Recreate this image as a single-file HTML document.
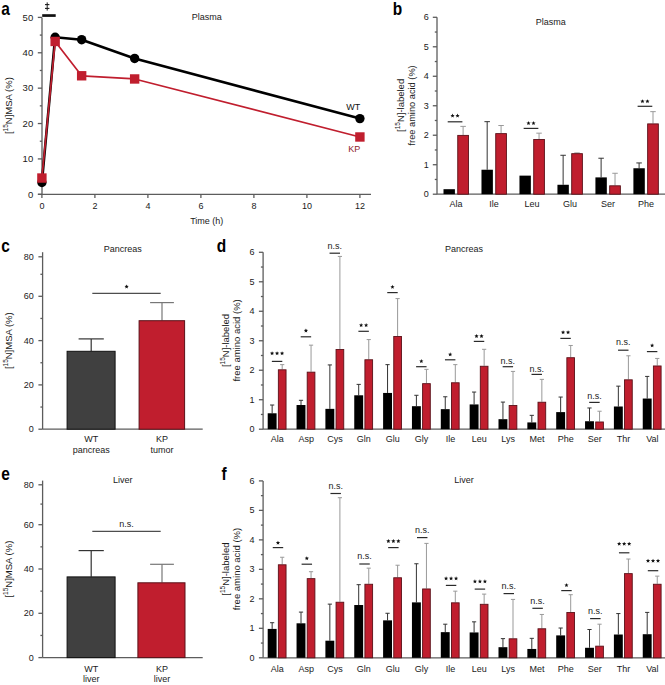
<!DOCTYPE html>
<html><head><meta charset="utf-8"><style>html,body{margin:0;padding:0;background:#fff;}svg{display:block;font-family:"Liberation Sans",sans-serif;}</style></head><body>
<svg width="665" height="685" viewBox="0 0 665 685" font-family="Liberation Sans, sans-serif">
<rect width="665" height="685" fill="#fff"/>
<text transform="translate(1.3,15) scale(0.86,1)" font-size="18" font-weight="bold" fill="#000">a</text>
<line x1="42" y1="17.4" x2="42" y2="194.3" stroke="#5c5c5c" stroke-width="1.3"/>
<line x1="37.8" y1="194.3" x2="42" y2="194.3" stroke="#5c5c5c" stroke-width="1.3"/>
<line x1="37.8" y1="158.92" x2="42" y2="158.92" stroke="#5c5c5c" stroke-width="1.3"/>
<line x1="37.8" y1="123.54" x2="42" y2="123.54" stroke="#5c5c5c" stroke-width="1.3"/>
<line x1="37.8" y1="88.16" x2="42" y2="88.16" stroke="#5c5c5c" stroke-width="1.3"/>
<line x1="37.8" y1="52.78" x2="42" y2="52.78" stroke="#5c5c5c" stroke-width="1.3"/>
<line x1="37.8" y1="17.4" x2="42" y2="17.4" stroke="#5c5c5c" stroke-width="1.3"/>
<line x1="39.8" y1="176.61" x2="42" y2="176.61" stroke="#5c5c5c" stroke-width="1.3"/>
<line x1="39.8" y1="141.23" x2="42" y2="141.23" stroke="#5c5c5c" stroke-width="1.3"/>
<line x1="39.8" y1="105.85" x2="42" y2="105.85" stroke="#5c5c5c" stroke-width="1.3"/>
<line x1="39.8" y1="70.47" x2="42" y2="70.47" stroke="#5c5c5c" stroke-width="1.3"/>
<line x1="39.8" y1="35.09" x2="42" y2="35.09" stroke="#5c5c5c" stroke-width="1.3"/>
<text x="33.2" y="197.6" font-size="9.5" text-anchor="end" font-weight="normal" fill="#1a1a1a">0</text>
<text x="33.2" y="162.22" font-size="9.5" text-anchor="end" font-weight="normal" fill="#1a1a1a">10</text>
<text x="33.2" y="126.84" font-size="9.5" text-anchor="end" font-weight="normal" fill="#1a1a1a">20</text>
<text x="33.2" y="91.46" font-size="9.5" text-anchor="end" font-weight="normal" fill="#1a1a1a">30</text>
<text x="33.2" y="56.08" font-size="9.5" text-anchor="end" font-weight="normal" fill="#1a1a1a">40</text>
<text x="33.2" y="20.7" font-size="9.5" text-anchor="end" font-weight="normal" fill="#1a1a1a">50</text>
<line x1="38" y1="194.3" x2="371" y2="194.3" stroke="#5c5c5c" stroke-width="1.3"/>
<line x1="41.9" y1="194.3" x2="41.9" y2="198.1" stroke="#5c5c5c" stroke-width="1.3"/>
<text x="41.9" y="209.2" font-size="9" text-anchor="middle" font-weight="normal" fill="#1a1a1a">0</text>
<line x1="94.9" y1="194.3" x2="94.9" y2="198.1" stroke="#5c5c5c" stroke-width="1.3"/>
<text x="94.9" y="209.2" font-size="9" text-anchor="middle" font-weight="normal" fill="#1a1a1a">2</text>
<line x1="147.9" y1="194.3" x2="147.9" y2="198.1" stroke="#5c5c5c" stroke-width="1.3"/>
<text x="147.9" y="209.2" font-size="9" text-anchor="middle" font-weight="normal" fill="#1a1a1a">4</text>
<line x1="200.9" y1="194.3" x2="200.9" y2="198.1" stroke="#5c5c5c" stroke-width="1.3"/>
<text x="200.9" y="209.2" font-size="9" text-anchor="middle" font-weight="normal" fill="#1a1a1a">6</text>
<line x1="253.9" y1="194.3" x2="253.9" y2="198.1" stroke="#5c5c5c" stroke-width="1.3"/>
<text x="253.9" y="209.2" font-size="9" text-anchor="middle" font-weight="normal" fill="#1a1a1a">8</text>
<line x1="306.9" y1="194.3" x2="306.9" y2="198.1" stroke="#5c5c5c" stroke-width="1.3"/>
<text x="306.9" y="209.2" font-size="9" text-anchor="middle" font-weight="normal" fill="#1a1a1a">10</text>
<line x1="359.9" y1="194.3" x2="359.9" y2="198.1" stroke="#5c5c5c" stroke-width="1.3"/>
<text x="359.9" y="209.2" font-size="9" text-anchor="middle" font-weight="normal" fill="#1a1a1a">12</text>
<text x="206.8" y="223.6" font-size="9" text-anchor="middle" font-weight="normal" fill="#1a1a1a">Time (h)</text>
<text x="206.7" y="19.6" font-size="9" text-anchor="middle" font-weight="normal" fill="#1a1a1a">Plasma</text>
<text transform="translate(12.3,105.6) rotate(-90)" font-size="9.5" text-anchor="middle" fill="#1a1a1a">[<tspan font-size="6.5" dy="-4.3">15</tspan><tspan dy="4.3">N]MSA (%)</tspan></text>
<rect x="42.2" y="14.2" width="13.5" height="2.7" fill="#111"/>
<line x1="47.2" y1="2.4" x2="47.2" y2="10.6" stroke="#1a1a1a" stroke-width="1"/>
<line x1="45" y1="4.6" x2="49.4" y2="4.6" stroke="#1a1a1a" stroke-width="1.1"/>
<line x1="45" y1="8.4" x2="49.4" y2="8.4" stroke="#1a1a1a" stroke-width="1.1"/>
<polyline points="41.9,182.45 55.15,37.21 81.65,39.69 134.65,58.44 359.9,118.59" fill="none" stroke="#000" stroke-width="2.6" stroke-linejoin="round"/>
<circle cx="41.9" cy="182.45" r="4.7" fill="#000"/>
<circle cx="55.15" cy="37.21" r="4.7" fill="#000"/>
<circle cx="81.65" cy="39.69" r="4.7" fill="#000"/>
<circle cx="134.65" cy="58.44" r="4.7" fill="#000"/>
<circle cx="359.9" cy="118.59" r="4.7" fill="#000"/>
<polyline points="41.9,178.03 55.15,41.46 81.65,75.78 134.65,78.96 359.9,136.98" fill="none" stroke="#c01e2e" stroke-width="1.7" stroke-linejoin="round"/>
<rect x="37.2" y="173.33" width="9.4" height="9.4" fill="#c01e2e"/>
<rect x="50.45" y="36.76" width="9.4" height="9.4" fill="#c01e2e"/>
<rect x="76.95" y="71.08" width="9.4" height="9.4" fill="#c01e2e"/>
<rect x="129.95" y="74.26" width="9.4" height="9.4" fill="#c01e2e"/>
<rect x="355.2" y="132.28" width="9.4" height="9.4" fill="#c01e2e"/>
<text x="353.3" y="109.9" font-size="9" text-anchor="middle" font-weight="normal" fill="#111">WT</text>
<text x="354.2" y="152.4" font-size="9" text-anchor="middle" font-weight="normal" fill="#8e1b2c">KP</text>
<text transform="translate(392.8,14.7) scale(0.86,1)" font-size="18" font-weight="bold" fill="#000">b</text>
<line x1="437" y1="17.3" x2="437" y2="194.2" stroke="#5c5c5c" stroke-width="1.3"/>
<line x1="432.8" y1="194.2" x2="437" y2="194.2" stroke="#5c5c5c" stroke-width="1.3"/>
<line x1="432.8" y1="164.72" x2="437" y2="164.72" stroke="#5c5c5c" stroke-width="1.3"/>
<line x1="432.8" y1="135.23" x2="437" y2="135.23" stroke="#5c5c5c" stroke-width="1.3"/>
<line x1="432.8" y1="105.75" x2="437" y2="105.75" stroke="#5c5c5c" stroke-width="1.3"/>
<line x1="432.8" y1="76.27" x2="437" y2="76.27" stroke="#5c5c5c" stroke-width="1.3"/>
<line x1="432.8" y1="46.78" x2="437" y2="46.78" stroke="#5c5c5c" stroke-width="1.3"/>
<line x1="432.8" y1="17.3" x2="437" y2="17.3" stroke="#5c5c5c" stroke-width="1.3"/>
<line x1="434.8" y1="179.46" x2="437" y2="179.46" stroke="#5c5c5c" stroke-width="1.3"/>
<line x1="434.8" y1="149.97" x2="437" y2="149.97" stroke="#5c5c5c" stroke-width="1.3"/>
<line x1="434.8" y1="120.49" x2="437" y2="120.49" stroke="#5c5c5c" stroke-width="1.3"/>
<line x1="434.8" y1="91.01" x2="437" y2="91.01" stroke="#5c5c5c" stroke-width="1.3"/>
<line x1="434.8" y1="61.53" x2="437" y2="61.53" stroke="#5c5c5c" stroke-width="1.3"/>
<line x1="434.8" y1="32.04" x2="437" y2="32.04" stroke="#5c5c5c" stroke-width="1.3"/>
<text x="428.8" y="197.1" font-size="9" text-anchor="end" font-weight="normal" fill="#1a1a1a">0</text>
<text x="428.8" y="167.62" font-size="9" text-anchor="end" font-weight="normal" fill="#1a1a1a">1</text>
<text x="428.8" y="138.13" font-size="9" text-anchor="end" font-weight="normal" fill="#1a1a1a">2</text>
<text x="428.8" y="108.65" font-size="9" text-anchor="end" font-weight="normal" fill="#1a1a1a">3</text>
<text x="428.8" y="79.17" font-size="9" text-anchor="end" font-weight="normal" fill="#1a1a1a">4</text>
<text x="428.8" y="49.68" font-size="9" text-anchor="end" font-weight="normal" fill="#1a1a1a">5</text>
<text x="428.8" y="20.2" font-size="9" text-anchor="end" font-weight="normal" fill="#1a1a1a">6</text>
<line x1="437" y1="194.2" x2="665" y2="194.2" stroke="#5c5c5c" stroke-width="1.3"/>
<text x="550.7" y="25.3" font-size="9" text-anchor="middle" font-weight="normal" fill="#1a1a1a">Plasma</text>
<text transform="translate(404.3,105.4) rotate(-90)" font-size="9.5" text-anchor="middle" fill="#1a1a1a">[<tspan font-size="6.5" dy="-4.3">15</tspan><tspan dy="4.3">N]-labeled</tspan></text>
<text transform="translate(414.6,105.4) rotate(-90)" font-size="9.25" text-anchor="middle" fill="#1a1a1a">free amino acid (%)</text>
<line x1="463.1" y1="134.94" x2="463.1" y2="126.39" stroke="#999999" stroke-width="1"/>
<line x1="460.35" y1="126.39" x2="465.85" y2="126.39" stroke="#999999" stroke-width="1"/>
<rect x="443.5" y="189.19" width="11.4" height="5.01" fill="#000"/>
<rect x="457.75" y="135.39" width="10.7" height="58.81" fill="#c01e2e" stroke="#5a1018" stroke-width="0.9"/>
<text x="456.1" y="207.1" font-size="9" text-anchor="middle" font-weight="normal" fill="#1a1a1a">Ala</text>
<line x1="447.7" y1="121.8" x2="462.4" y2="121.8" stroke="#2a2a2a" stroke-width="1.2"/>
<polygon points="452.55,113.55 453.14,114.94 454.64,115.07 453.5,116.06 453.84,117.53 452.55,116.75 451.26,117.53 451.6,116.06 450.46,115.07 451.96,114.94" fill="#111"/>
<polygon points="457.55,113.55 458.14,114.94 459.64,115.07 458.5,116.06 458.84,117.53 457.55,116.75 456.26,117.53 456.6,116.06 455.46,115.07 456.96,114.94" fill="#111"/>
<line x1="487.18" y1="169.73" x2="487.18" y2="121.67" stroke="#333333" stroke-width="1"/>
<line x1="484.43" y1="121.67" x2="489.93" y2="121.67" stroke="#333333" stroke-width="1"/>
<line x1="501.08" y1="133.17" x2="501.08" y2="125.5" stroke="#999999" stroke-width="1"/>
<line x1="498.33" y1="125.5" x2="503.83" y2="125.5" stroke="#999999" stroke-width="1"/>
<rect x="481.48" y="169.73" width="11.4" height="24.47" fill="#000"/>
<rect x="495.73" y="133.62" width="10.7" height="60.58" fill="#c01e2e" stroke="#5a1018" stroke-width="0.9"/>
<text x="494.08" y="207.1" font-size="9" text-anchor="middle" font-weight="normal" fill="#1a1a1a">Ile</text>
<line x1="539.06" y1="139.07" x2="539.06" y2="133.17" stroke="#999999" stroke-width="1"/>
<line x1="536.31" y1="133.17" x2="541.81" y2="133.17" stroke="#999999" stroke-width="1"/>
<rect x="519.46" y="175.63" width="11.4" height="18.57" fill="#000"/>
<rect x="533.71" y="139.52" width="10.7" height="54.68" fill="#c01e2e" stroke="#5a1018" stroke-width="0.9"/>
<text x="532.06" y="207.1" font-size="9" text-anchor="middle" font-weight="normal" fill="#1a1a1a">Leu</text>
<line x1="523.66" y1="128.4" x2="538.36" y2="128.4" stroke="#2a2a2a" stroke-width="1.2"/>
<polygon points="528.51,121.05 529.1,122.44 530.6,122.57 529.46,123.56 529.8,125.03 528.51,124.25 527.22,125.03 527.56,123.56 526.42,122.57 527.92,122.44" fill="#111"/>
<polygon points="533.51,121.05 534.1,122.44 535.6,122.57 534.46,123.56 534.8,125.03 533.51,124.25 532.22,125.03 532.56,123.56 531.42,122.57 532.92,122.44" fill="#111"/>
<line x1="563.14" y1="184.77" x2="563.14" y2="155.28" stroke="#333333" stroke-width="1"/>
<line x1="560.39" y1="155.28" x2="565.89" y2="155.28" stroke="#333333" stroke-width="1"/>
<line x1="577.04" y1="153.22" x2="577.04" y2="152.92" stroke="#999999" stroke-width="1"/>
<line x1="574.29" y1="152.92" x2="579.79" y2="152.92" stroke="#999999" stroke-width="1"/>
<rect x="557.44" y="184.77" width="11.4" height="9.43" fill="#000"/>
<rect x="571.69" y="153.67" width="10.7" height="40.53" fill="#c01e2e" stroke="#5a1018" stroke-width="0.9"/>
<text x="570.04" y="207.1" font-size="9" text-anchor="middle" font-weight="normal" fill="#1a1a1a">Glu</text>
<line x1="601.12" y1="177.39" x2="601.12" y2="158.23" stroke="#333333" stroke-width="1"/>
<line x1="598.37" y1="158.23" x2="603.87" y2="158.23" stroke="#333333" stroke-width="1"/>
<line x1="615.02" y1="185.35" x2="615.02" y2="173.27" stroke="#999999" stroke-width="1"/>
<line x1="612.27" y1="173.27" x2="617.77" y2="173.27" stroke="#999999" stroke-width="1"/>
<rect x="595.42" y="177.39" width="11.4" height="16.81" fill="#000"/>
<rect x="609.67" y="185.8" width="10.7" height="8.39" fill="#c01e2e" stroke="#5a1018" stroke-width="0.9"/>
<text x="608.02" y="207.1" font-size="9" text-anchor="middle" font-weight="normal" fill="#1a1a1a">Ser</text>
<line x1="639.1" y1="168.25" x2="639.1" y2="162.95" stroke="#333333" stroke-width="1"/>
<line x1="636.35" y1="162.95" x2="641.85" y2="162.95" stroke="#333333" stroke-width="1"/>
<line x1="653" y1="123.44" x2="653" y2="111.65" stroke="#999999" stroke-width="1"/>
<line x1="650.25" y1="111.65" x2="655.75" y2="111.65" stroke="#999999" stroke-width="1"/>
<rect x="633.4" y="168.25" width="11.4" height="25.95" fill="#000"/>
<rect x="647.65" y="123.89" width="10.7" height="70.31" fill="#c01e2e" stroke="#5a1018" stroke-width="0.9"/>
<text x="646" y="207.1" font-size="9" text-anchor="middle" font-weight="normal" fill="#1a1a1a">Phe</text>
<line x1="637.6" y1="106.3" x2="652.3" y2="106.3" stroke="#2a2a2a" stroke-width="1.2"/>
<polygon points="642.45,99.15 643.04,100.54 644.54,100.67 643.4,101.66 643.74,103.13 642.45,102.35 641.16,103.13 641.5,101.66 640.36,100.67 641.86,100.54" fill="#111"/>
<polygon points="647.45,99.15 648.04,100.54 649.54,100.67 648.4,101.66 648.74,103.13 647.45,102.35 646.16,103.13 646.5,101.66 645.36,100.67 646.86,100.54" fill="#111"/>
<text transform="translate(1.3,251.7) scale(0.86,1)" font-size="18" font-weight="bold" fill="#000">c</text>
<line x1="42.6" y1="252.2" x2="42.6" y2="429.2" stroke="#5c5c5c" stroke-width="1.3"/>
<line x1="38.4" y1="429.2" x2="42.6" y2="429.2" stroke="#5c5c5c" stroke-width="1.3"/>
<line x1="38.4" y1="384.9" x2="42.6" y2="384.9" stroke="#5c5c5c" stroke-width="1.3"/>
<line x1="38.4" y1="340.6" x2="42.6" y2="340.6" stroke="#5c5c5c" stroke-width="1.3"/>
<line x1="38.4" y1="296.3" x2="42.6" y2="296.3" stroke="#5c5c5c" stroke-width="1.3"/>
<line x1="38.4" y1="256.8" x2="42.6" y2="256.8" stroke="#5c5c5c" stroke-width="1.3"/>
<line x1="40.4" y1="407.05" x2="42.6" y2="407.05" stroke="#5c5c5c" stroke-width="1.3"/>
<line x1="40.4" y1="362.75" x2="42.6" y2="362.75" stroke="#5c5c5c" stroke-width="1.3"/>
<line x1="40.4" y1="318.45" x2="42.6" y2="318.45" stroke="#5c5c5c" stroke-width="1.3"/>
<line x1="40.4" y1="274.3" x2="42.6" y2="274.3" stroke="#5c5c5c" stroke-width="1.3"/>
<text x="33.7" y="432.1" font-size="9" text-anchor="end" font-weight="normal" fill="#1a1a1a">0</text>
<text x="33.7" y="387.8" font-size="9" text-anchor="end" font-weight="normal" fill="#1a1a1a">20</text>
<text x="33.7" y="343.5" font-size="9" text-anchor="end" font-weight="normal" fill="#1a1a1a">40</text>
<text x="33.7" y="299.2" font-size="9" text-anchor="end" font-weight="normal" fill="#1a1a1a">60</text>
<text x="33.7" y="259.7" font-size="9" text-anchor="end" font-weight="normal" fill="#1a1a1a">80</text>
<line x1="42.6" y1="429.2" x2="202.7" y2="429.2" stroke="#5c5c5c" stroke-width="1.3"/>
<text x="122.8" y="251.8" font-size="9" text-anchor="middle" font-weight="normal" fill="#1a1a1a">Pancreas</text>
<text transform="translate(12.3,340.7) rotate(-90)" font-size="9.5" text-anchor="middle" fill="#1a1a1a">[<tspan font-size="6.5" dy="-4.3">15</tspan><tspan dy="4.3">N]MSA (%)</tspan></text>
<line x1="91.2" y1="351.1" x2="91.2" y2="338.9" stroke="#333333" stroke-width="1.2"/>
<line x1="78.6" y1="338.9" x2="103.8" y2="338.9" stroke="#333333" stroke-width="1.2"/>
<line x1="162" y1="320.5" x2="162" y2="302.6" stroke="#777" stroke-width="1.2"/>
<line x1="150.1" y1="302.6" x2="173.9" y2="302.6" stroke="#777" stroke-width="1.2"/>
<rect x="67.1" y="351.3" width="48" height="77.9" fill="#404040" stroke="#111" stroke-width="1"/>
<rect x="139.1" y="320.7" width="45.5" height="108.5" fill="#c01e2e" stroke="#5a1018" stroke-width="1"/>
<line x1="92.3" y1="293.3" x2="160.7" y2="293.3" stroke="#222" stroke-width="1"/>
<polygon points="126.6,284.45 127.19,285.84 128.69,285.97 127.55,286.96 127.89,288.43 126.6,287.65 125.31,288.43 125.65,286.96 124.51,285.97 126.01,285.84" fill="#111"/>
<text x="91.3" y="442.1" font-size="9" text-anchor="middle" font-weight="normal" fill="#1a1a1a">WT</text>
<text x="91.3" y="452.6" font-size="9" text-anchor="middle" font-weight="normal" fill="#1a1a1a">pancreas</text>
<text x="162" y="442.1" font-size="9" text-anchor="middle" font-weight="normal" fill="#1a1a1a">KP</text>
<text x="162" y="452.6" font-size="9" text-anchor="middle" font-weight="normal" fill="#1a1a1a">tumor</text>
<text transform="translate(1.3,480.3) scale(0.86,1)" font-size="18" font-weight="bold" fill="#000">e</text>
<line x1="42.6" y1="480.6" x2="42.6" y2="657.6" stroke="#5c5c5c" stroke-width="1.3"/>
<line x1="38.4" y1="657.6" x2="42.6" y2="657.6" stroke="#5c5c5c" stroke-width="1.3"/>
<line x1="38.4" y1="613.3" x2="42.6" y2="613.3" stroke="#5c5c5c" stroke-width="1.3"/>
<line x1="38.4" y1="569" x2="42.6" y2="569" stroke="#5c5c5c" stroke-width="1.3"/>
<line x1="38.4" y1="524.7" x2="42.6" y2="524.7" stroke="#5c5c5c" stroke-width="1.3"/>
<line x1="38.4" y1="484.8" x2="42.6" y2="484.8" stroke="#5c5c5c" stroke-width="1.3"/>
<line x1="40.4" y1="635.45" x2="42.6" y2="635.45" stroke="#5c5c5c" stroke-width="1.3"/>
<line x1="40.4" y1="591.15" x2="42.6" y2="591.15" stroke="#5c5c5c" stroke-width="1.3"/>
<line x1="40.4" y1="546.85" x2="42.6" y2="546.85" stroke="#5c5c5c" stroke-width="1.3"/>
<line x1="40.4" y1="504.1" x2="42.6" y2="504.1" stroke="#5c5c5c" stroke-width="1.3"/>
<text x="33.7" y="660.5" font-size="9" text-anchor="end" font-weight="normal" fill="#1a1a1a">0</text>
<text x="33.7" y="616.2" font-size="9" text-anchor="end" font-weight="normal" fill="#1a1a1a">20</text>
<text x="33.7" y="571.9" font-size="9" text-anchor="end" font-weight="normal" fill="#1a1a1a">40</text>
<text x="33.7" y="527.6" font-size="9" text-anchor="end" font-weight="normal" fill="#1a1a1a">60</text>
<text x="33.7" y="487.7" font-size="9" text-anchor="end" font-weight="normal" fill="#1a1a1a">80</text>
<line x1="42.6" y1="657.6" x2="202.7" y2="657.6" stroke="#5c5c5c" stroke-width="1.3"/>
<text x="122.8" y="483.1" font-size="9" text-anchor="middle" font-weight="normal" fill="#1a1a1a">Liver</text>
<text transform="translate(12.3,569.1) rotate(-90)" font-size="9.5" text-anchor="middle" fill="#1a1a1a">[<tspan font-size="6.5" dy="-4.3">15</tspan><tspan dy="4.3">N]MSA (%)</tspan></text>
<line x1="91.2" y1="576.7" x2="91.2" y2="550.6" stroke="#333333" stroke-width="1.2"/>
<line x1="78.6" y1="550.6" x2="103.8" y2="550.6" stroke="#333333" stroke-width="1.2"/>
<line x1="162" y1="582.6" x2="162" y2="564.3" stroke="#777" stroke-width="1.2"/>
<line x1="150.1" y1="564.3" x2="173.9" y2="564.3" stroke="#777" stroke-width="1.2"/>
<rect x="67.1" y="576.9" width="48" height="80.7" fill="#404040" stroke="#111" stroke-width="1"/>
<rect x="137.9" y="582.8" width="47.1" height="74.8" fill="#c01e2e" stroke="#5a1018" stroke-width="1"/>
<line x1="92.3" y1="531.3" x2="160.7" y2="531.3" stroke="#222" stroke-width="1"/>
<text x="126.6" y="526.7" font-size="9" text-anchor="middle" font-weight="normal" fill="#1a1a1a">n.s.</text>
<text x="91.3" y="672.2" font-size="9" text-anchor="middle" font-weight="normal" fill="#1a1a1a">WT</text>
<text x="91.3" y="682.4" font-size="9" text-anchor="middle" font-weight="normal" fill="#1a1a1a">liver</text>
<text x="162" y="672.2" font-size="9" text-anchor="middle" font-weight="normal" fill="#1a1a1a">KP</text>
<text x="162" y="682.4" font-size="9" text-anchor="middle" font-weight="normal" fill="#1a1a1a">liver</text>
<text transform="translate(216.8,251.5) scale(0.86,1)" font-size="18" font-weight="bold" fill="#000">d</text>
<line x1="263.1" y1="252.3" x2="263.1" y2="429.2" stroke="#5c5c5c" stroke-width="1.3"/>
<line x1="258.9" y1="429.2" x2="263.1" y2="429.2" stroke="#5c5c5c" stroke-width="1.3"/>
<line x1="258.9" y1="399.72" x2="263.1" y2="399.72" stroke="#5c5c5c" stroke-width="1.3"/>
<line x1="258.9" y1="370.23" x2="263.1" y2="370.23" stroke="#5c5c5c" stroke-width="1.3"/>
<line x1="258.9" y1="340.75" x2="263.1" y2="340.75" stroke="#5c5c5c" stroke-width="1.3"/>
<line x1="258.9" y1="311.27" x2="263.1" y2="311.27" stroke="#5c5c5c" stroke-width="1.3"/>
<line x1="258.9" y1="281.78" x2="263.1" y2="281.78" stroke="#5c5c5c" stroke-width="1.3"/>
<line x1="258.9" y1="252.3" x2="263.1" y2="252.3" stroke="#5c5c5c" stroke-width="1.3"/>
<line x1="260.9" y1="414.46" x2="263.1" y2="414.46" stroke="#5c5c5c" stroke-width="1.3"/>
<line x1="260.9" y1="384.98" x2="263.1" y2="384.98" stroke="#5c5c5c" stroke-width="1.3"/>
<line x1="260.9" y1="355.49" x2="263.1" y2="355.49" stroke="#5c5c5c" stroke-width="1.3"/>
<line x1="260.9" y1="326.01" x2="263.1" y2="326.01" stroke="#5c5c5c" stroke-width="1.3"/>
<line x1="260.9" y1="296.52" x2="263.1" y2="296.52" stroke="#5c5c5c" stroke-width="1.3"/>
<line x1="260.9" y1="267.04" x2="263.1" y2="267.04" stroke="#5c5c5c" stroke-width="1.3"/>
<text x="254.5" y="432.1" font-size="9" text-anchor="end" font-weight="normal" fill="#1a1a1a">0</text>
<text x="254.5" y="402.62" font-size="9" text-anchor="end" font-weight="normal" fill="#1a1a1a">1</text>
<text x="254.5" y="373.13" font-size="9" text-anchor="end" font-weight="normal" fill="#1a1a1a">2</text>
<text x="254.5" y="343.65" font-size="9" text-anchor="end" font-weight="normal" fill="#1a1a1a">3</text>
<text x="254.5" y="314.17" font-size="9" text-anchor="end" font-weight="normal" fill="#1a1a1a">4</text>
<text x="254.5" y="284.68" font-size="9" text-anchor="end" font-weight="normal" fill="#1a1a1a">5</text>
<text x="254.5" y="255.2" font-size="9" text-anchor="end" font-weight="normal" fill="#1a1a1a">6</text>
<line x1="263.1" y1="429.2" x2="665" y2="429.2" stroke="#5c5c5c" stroke-width="1.3"/>
<text x="464" y="251.8" font-size="9" text-anchor="middle" font-weight="normal" fill="#1a1a1a">Pancreas</text>
<text transform="translate(229.0,340.5) rotate(-90)" font-size="9.5" text-anchor="middle" fill="#1a1a1a">[<tspan font-size="6.5" dy="-4.3">15</tspan><tspan dy="4.3">N]-labeled</tspan></text>
<text transform="translate(240.0,340.4) rotate(-90)" font-size="9.5" text-anchor="middle" fill="#1a1a1a">free amino acid (%)</text>
<line x1="272.15" y1="413.28" x2="272.15" y2="405.02" stroke="#333333" stroke-width="1"/>
<line x1="270.05" y1="405.02" x2="274.25" y2="405.02" stroke="#333333" stroke-width="1"/>
<line x1="282.2" y1="369.35" x2="282.2" y2="364.63" stroke="#999999" stroke-width="1"/>
<line x1="280.1" y1="364.63" x2="284.3" y2="364.63" stroke="#999999" stroke-width="1"/>
<rect x="267.7" y="413.28" width="8.9" height="15.92" fill="#000"/>
<rect x="278.35" y="369.8" width="7.7" height="59.4" fill="#c01e2e" stroke="#5a1018" stroke-width="0.9"/>
<text x="277.3" y="442" font-size="9" text-anchor="middle" font-weight="normal" fill="#1a1a1a">Ala</text>
<line x1="271.85" y1="361.4" x2="282.3" y2="361.4" stroke="#2a2a2a" stroke-width="1.2"/>
<polygon points="272.07,351.15 272.66,352.54 274.17,352.67 273.03,353.66 273.37,355.13 272.07,354.35 270.78,355.13 271.12,353.66 269.98,352.67 271.49,352.54" fill="#111"/>
<polygon points="277.07,351.15 277.66,352.54 279.17,352.67 278.03,353.66 278.37,355.13 277.07,354.35 275.78,355.13 276.12,353.66 274.98,352.67 276.49,352.54" fill="#111"/>
<polygon points="282.07,351.15 282.66,352.54 284.17,352.67 283.03,353.66 283.37,355.13 282.07,354.35 280.78,355.13 281.12,353.66 279.98,352.67 281.49,352.54" fill="#111"/>
<line x1="301" y1="405.02" x2="301" y2="400.31" stroke="#333333" stroke-width="1"/>
<line x1="298.9" y1="400.31" x2="303.1" y2="400.31" stroke="#333333" stroke-width="1"/>
<line x1="311.05" y1="371.71" x2="311.05" y2="345.17" stroke="#999999" stroke-width="1"/>
<line x1="308.95" y1="345.17" x2="313.15" y2="345.17" stroke="#999999" stroke-width="1"/>
<rect x="296.55" y="405.02" width="8.9" height="24.18" fill="#000"/>
<rect x="307.2" y="372.16" width="7.7" height="57.04" fill="#c01e2e" stroke="#5a1018" stroke-width="0.9"/>
<text x="306.15" y="442" font-size="9" text-anchor="middle" font-weight="normal" fill="#1a1a1a">Asp</text>
<line x1="300.7" y1="336.8" x2="311.15" y2="336.8" stroke="#2a2a2a" stroke-width="1.2"/>
<polygon points="305.93,328.45 306.51,329.84 308.02,329.97 306.88,330.96 307.22,332.43 305.93,331.65 304.63,332.43 304.97,330.96 303.83,329.97 305.34,329.84" fill="#111"/>
<line x1="329.85" y1="408.86" x2="329.85" y2="364.93" stroke="#333333" stroke-width="1"/>
<line x1="327.75" y1="364.93" x2="331.95" y2="364.93" stroke="#333333" stroke-width="1"/>
<line x1="339.9" y1="349.01" x2="339.9" y2="256.43" stroke="#999999" stroke-width="1"/>
<line x1="337.8" y1="256.43" x2="342" y2="256.43" stroke="#999999" stroke-width="1"/>
<rect x="325.4" y="408.86" width="8.9" height="20.34" fill="#000"/>
<rect x="336.05" y="349.46" width="7.7" height="79.74" fill="#c01e2e" stroke="#5a1018" stroke-width="0.9"/>
<text x="335" y="442" font-size="9" text-anchor="middle" font-weight="normal" fill="#1a1a1a">Cys</text>
<line x1="329.55" y1="253.2" x2="340" y2="253.2" stroke="#2a2a2a" stroke-width="1.2"/>
<text x="334.77" y="249" font-size="9" text-anchor="middle" font-weight="normal" fill="#1a1a1a">n.s.</text>
<line x1="358.7" y1="395.29" x2="358.7" y2="384.39" stroke="#333333" stroke-width="1"/>
<line x1="356.6" y1="384.39" x2="360.8" y2="384.39" stroke="#333333" stroke-width="1"/>
<line x1="368.75" y1="359.32" x2="368.75" y2="339.57" stroke="#999999" stroke-width="1"/>
<line x1="366.65" y1="339.57" x2="370.85" y2="339.57" stroke="#999999" stroke-width="1"/>
<rect x="354.25" y="395.29" width="8.9" height="33.91" fill="#000"/>
<rect x="364.9" y="359.77" width="7.7" height="69.43" fill="#c01e2e" stroke="#5a1018" stroke-width="0.9"/>
<text x="363.85" y="442" font-size="9" text-anchor="middle" font-weight="normal" fill="#1a1a1a">Gln</text>
<line x1="358.4" y1="331.3" x2="368.85" y2="331.3" stroke="#2a2a2a" stroke-width="1.2"/>
<polygon points="361.12,323.05 361.71,324.44 363.22,324.57 362.08,325.56 362.42,327.03 361.12,326.25 359.83,327.03 360.17,325.56 359.03,324.57 360.54,324.44" fill="#111"/>
<polygon points="366.12,323.05 366.71,324.44 368.22,324.57 367.08,325.56 367.42,327.03 366.12,326.25 364.83,327.03 365.17,325.56 364.03,324.57 365.54,324.44" fill="#111"/>
<line x1="387.55" y1="392.94" x2="387.55" y2="364.63" stroke="#333333" stroke-width="1"/>
<line x1="385.45" y1="364.63" x2="389.65" y2="364.63" stroke="#333333" stroke-width="1"/>
<line x1="397.6" y1="336.03" x2="397.6" y2="298.59" stroke="#999999" stroke-width="1"/>
<line x1="395.5" y1="298.59" x2="399.7" y2="298.59" stroke="#999999" stroke-width="1"/>
<rect x="383.1" y="392.94" width="8.9" height="36.26" fill="#000"/>
<rect x="393.75" y="336.48" width="7.7" height="92.72" fill="#c01e2e" stroke="#5a1018" stroke-width="0.9"/>
<text x="392.7" y="442" font-size="9" text-anchor="middle" font-weight="normal" fill="#1a1a1a">Glu</text>
<line x1="387.25" y1="292.6" x2="397.7" y2="292.6" stroke="#2a2a2a" stroke-width="1.2"/>
<polygon points="392.48,284.85 393.06,286.24 394.57,286.37 393.43,287.36 393.77,288.83 392.48,288.05 391.18,288.83 391.52,287.36 390.38,286.37 391.89,286.24" fill="#111"/>
<line x1="416.4" y1="406.2" x2="416.4" y2="395.29" stroke="#333333" stroke-width="1"/>
<line x1="414.3" y1="395.29" x2="418.5" y2="395.29" stroke="#333333" stroke-width="1"/>
<line x1="426.45" y1="383.21" x2="426.45" y2="369.35" stroke="#999999" stroke-width="1"/>
<line x1="424.35" y1="369.35" x2="428.55" y2="369.35" stroke="#999999" stroke-width="1"/>
<rect x="411.95" y="406.2" width="8.9" height="23" fill="#000"/>
<rect x="422.6" y="383.66" width="7.7" height="45.54" fill="#c01e2e" stroke="#5a1018" stroke-width="0.9"/>
<text x="421.55" y="442" font-size="9" text-anchor="middle" font-weight="normal" fill="#1a1a1a">Gly</text>
<line x1="416.1" y1="366.7" x2="426.55" y2="366.7" stroke="#2a2a2a" stroke-width="1.2"/>
<polygon points="421.32,359.05 421.91,360.44 423.42,360.57 422.28,361.56 422.62,363.03 421.32,362.25 420.03,363.03 420.37,361.56 419.23,360.57 420.74,360.44" fill="#111"/>
<line x1="445.25" y1="409.15" x2="445.25" y2="396.77" stroke="#333333" stroke-width="1"/>
<line x1="443.15" y1="396.77" x2="447.35" y2="396.77" stroke="#333333" stroke-width="1"/>
<line x1="455.3" y1="382.32" x2="455.3" y2="364.63" stroke="#999999" stroke-width="1"/>
<line x1="453.2" y1="364.63" x2="457.4" y2="364.63" stroke="#999999" stroke-width="1"/>
<rect x="440.8" y="409.15" width="8.9" height="20.05" fill="#000"/>
<rect x="451.45" y="382.77" width="7.7" height="46.43" fill="#c01e2e" stroke="#5a1018" stroke-width="0.9"/>
<text x="450.4" y="442" font-size="9" text-anchor="middle" font-weight="normal" fill="#1a1a1a">Ile</text>
<line x1="444.95" y1="359.8" x2="455.4" y2="359.8" stroke="#2a2a2a" stroke-width="1.2"/>
<polygon points="450.18,352.25 450.76,353.64 452.27,353.77 451.13,354.76 451.47,356.23 450.18,355.45 448.88,356.23 449.22,354.76 448.08,353.77 449.59,353.64" fill="#111"/>
<line x1="474.1" y1="404.43" x2="474.1" y2="392.05" stroke="#333333" stroke-width="1"/>
<line x1="472" y1="392.05" x2="476.2" y2="392.05" stroke="#333333" stroke-width="1"/>
<line x1="484.15" y1="365.81" x2="484.15" y2="349.3" stroke="#999999" stroke-width="1"/>
<line x1="482.05" y1="349.3" x2="486.25" y2="349.3" stroke="#999999" stroke-width="1"/>
<rect x="469.65" y="404.43" width="8.9" height="24.77" fill="#000"/>
<rect x="480.3" y="366.26" width="7.7" height="62.94" fill="#c01e2e" stroke="#5a1018" stroke-width="0.9"/>
<text x="479.25" y="442" font-size="9" text-anchor="middle" font-weight="normal" fill="#1a1a1a">Leu</text>
<line x1="473.8" y1="341.4" x2="484.25" y2="341.4" stroke="#2a2a2a" stroke-width="1.2"/>
<polygon points="476.52,333.95 477.11,335.34 478.62,335.47 477.48,336.46 477.82,337.93 476.52,337.15 475.23,337.93 475.57,336.46 474.43,335.47 475.94,335.34" fill="#111"/>
<polygon points="481.52,333.95 482.11,335.34 483.62,335.47 482.48,336.46 482.82,337.93 481.52,337.15 480.23,337.93 480.57,336.46 479.43,335.47 480.94,335.34" fill="#111"/>
<line x1="502.95" y1="419.18" x2="502.95" y2="402.08" stroke="#333333" stroke-width="1"/>
<line x1="500.85" y1="402.08" x2="505.05" y2="402.08" stroke="#333333" stroke-width="1"/>
<line x1="513" y1="405.02" x2="513" y2="371.41" stroke="#999999" stroke-width="1"/>
<line x1="510.9" y1="371.41" x2="515.1" y2="371.41" stroke="#999999" stroke-width="1"/>
<rect x="498.5" y="419.18" width="8.9" height="10.02" fill="#000"/>
<rect x="509.15" y="405.47" width="7.7" height="23.73" fill="#c01e2e" stroke="#5a1018" stroke-width="0.9"/>
<text x="508.1" y="442" font-size="9" text-anchor="middle" font-weight="normal" fill="#1a1a1a">Lys</text>
<line x1="502.65" y1="366.7" x2="513.1" y2="366.7" stroke="#2a2a2a" stroke-width="1.2"/>
<text x="507.88" y="363.5" font-size="9" text-anchor="middle" font-weight="normal" fill="#1a1a1a">n.s.</text>
<line x1="531.8" y1="422.42" x2="531.8" y2="415.34" stroke="#333333" stroke-width="1"/>
<line x1="529.7" y1="415.34" x2="533.9" y2="415.34" stroke="#333333" stroke-width="1"/>
<line x1="541.85" y1="401.78" x2="541.85" y2="379.37" stroke="#999999" stroke-width="1"/>
<line x1="539.75" y1="379.37" x2="543.95" y2="379.37" stroke="#999999" stroke-width="1"/>
<rect x="527.35" y="422.42" width="8.9" height="6.78" fill="#000"/>
<rect x="538" y="402.23" width="7.7" height="26.97" fill="#c01e2e" stroke="#5a1018" stroke-width="0.9"/>
<text x="536.95" y="442" font-size="9" text-anchor="middle" font-weight="normal" fill="#1a1a1a">Met</text>
<line x1="531.5" y1="374.4" x2="541.95" y2="374.4" stroke="#2a2a2a" stroke-width="1.2"/>
<text x="536.73" y="371.7" font-size="9" text-anchor="middle" font-weight="normal" fill="#1a1a1a">n.s.</text>
<line x1="560.65" y1="412.1" x2="560.65" y2="397.06" stroke="#333333" stroke-width="1"/>
<line x1="558.55" y1="397.06" x2="562.75" y2="397.06" stroke="#333333" stroke-width="1"/>
<line x1="570.7" y1="357.26" x2="570.7" y2="345.47" stroke="#999999" stroke-width="1"/>
<line x1="568.6" y1="345.47" x2="572.8" y2="345.47" stroke="#999999" stroke-width="1"/>
<rect x="556.2" y="412.1" width="8.9" height="17.1" fill="#000"/>
<rect x="566.85" y="357.71" width="7.7" height="71.49" fill="#c01e2e" stroke="#5a1018" stroke-width="0.9"/>
<text x="565.8" y="442" font-size="9" text-anchor="middle" font-weight="normal" fill="#1a1a1a">Phe</text>
<line x1="560.35" y1="338.4" x2="570.8" y2="338.4" stroke="#2a2a2a" stroke-width="1.2"/>
<polygon points="563.08,330.15 563.66,331.54 565.17,331.67 564.03,332.66 564.37,334.13 563.08,333.35 561.78,334.13 562.12,332.66 560.98,331.67 562.49,331.54" fill="#111"/>
<polygon points="568.08,330.15 568.66,331.54 570.17,331.67 569.03,332.66 569.37,334.13 568.08,333.35 566.78,334.13 567.12,332.66 565.98,331.67 567.49,331.54" fill="#111"/>
<line x1="589.5" y1="421.24" x2="589.5" y2="407.97" stroke="#333333" stroke-width="1"/>
<line x1="587.4" y1="407.97" x2="591.6" y2="407.97" stroke="#333333" stroke-width="1"/>
<line x1="599.55" y1="421.53" x2="599.55" y2="411.22" stroke="#999999" stroke-width="1"/>
<line x1="597.45" y1="411.22" x2="601.65" y2="411.22" stroke="#999999" stroke-width="1"/>
<rect x="585.05" y="421.24" width="8.9" height="7.96" fill="#000"/>
<rect x="595.7" y="421.98" width="7.7" height="7.22" fill="#c01e2e" stroke="#5a1018" stroke-width="0.9"/>
<text x="594.65" y="442" font-size="9" text-anchor="middle" font-weight="normal" fill="#1a1a1a">Ser</text>
<line x1="589.2" y1="402.4" x2="599.65" y2="402.4" stroke="#2a2a2a" stroke-width="1.2"/>
<text x="594.42" y="399.3" font-size="9" text-anchor="middle" font-weight="normal" fill="#1a1a1a">n.s.</text>
<line x1="618.35" y1="406.5" x2="618.35" y2="386.15" stroke="#333333" stroke-width="1"/>
<line x1="616.25" y1="386.15" x2="620.45" y2="386.15" stroke="#333333" stroke-width="1"/>
<line x1="628.4" y1="379.37" x2="628.4" y2="355.79" stroke="#999999" stroke-width="1"/>
<line x1="626.3" y1="355.79" x2="630.5" y2="355.79" stroke="#999999" stroke-width="1"/>
<rect x="613.9" y="406.5" width="8.9" height="22.7" fill="#000"/>
<rect x="624.55" y="379.82" width="7.7" height="49.38" fill="#c01e2e" stroke="#5a1018" stroke-width="0.9"/>
<text x="623.5" y="442" font-size="9" text-anchor="middle" font-weight="normal" fill="#1a1a1a">Thr</text>
<line x1="618.05" y1="350.2" x2="628.5" y2="350.2" stroke="#2a2a2a" stroke-width="1.2"/>
<text x="623.28" y="345.4" font-size="9" text-anchor="middle" font-weight="normal" fill="#1a1a1a">n.s.</text>
<line x1="647.2" y1="398.54" x2="647.2" y2="376.42" stroke="#333333" stroke-width="1"/>
<line x1="645.1" y1="376.42" x2="649.3" y2="376.42" stroke="#333333" stroke-width="1"/>
<line x1="657.25" y1="365.52" x2="657.25" y2="358.44" stroke="#999999" stroke-width="1"/>
<line x1="655.15" y1="358.44" x2="659.35" y2="358.44" stroke="#999999" stroke-width="1"/>
<rect x="642.75" y="398.54" width="8.9" height="30.66" fill="#000"/>
<rect x="653.4" y="365.97" width="7.7" height="63.23" fill="#c01e2e" stroke="#5a1018" stroke-width="0.9"/>
<text x="652.35" y="442" font-size="9" text-anchor="middle" font-weight="normal" fill="#1a1a1a">Val</text>
<line x1="646.9" y1="351.6" x2="657.35" y2="351.6" stroke="#2a2a2a" stroke-width="1.2"/>
<polygon points="652.12,343.35 652.71,344.74 654.22,344.87 653.08,345.86 653.42,347.33 652.12,346.55 650.83,347.33 651.17,345.86 650.03,344.87 651.54,344.74" fill="#111"/>
<text transform="translate(221.6,480.3) scale(0.86,1)" font-size="18" font-weight="bold" fill="#000">f</text>
<line x1="263.1" y1="480.9" x2="263.1" y2="657.8" stroke="#5c5c5c" stroke-width="1.3"/>
<line x1="258.9" y1="657.8" x2="263.1" y2="657.8" stroke="#5c5c5c" stroke-width="1.3"/>
<line x1="258.9" y1="628.32" x2="263.1" y2="628.32" stroke="#5c5c5c" stroke-width="1.3"/>
<line x1="258.9" y1="598.83" x2="263.1" y2="598.83" stroke="#5c5c5c" stroke-width="1.3"/>
<line x1="258.9" y1="569.35" x2="263.1" y2="569.35" stroke="#5c5c5c" stroke-width="1.3"/>
<line x1="258.9" y1="539.87" x2="263.1" y2="539.87" stroke="#5c5c5c" stroke-width="1.3"/>
<line x1="258.9" y1="510.38" x2="263.1" y2="510.38" stroke="#5c5c5c" stroke-width="1.3"/>
<line x1="258.9" y1="480.9" x2="263.1" y2="480.9" stroke="#5c5c5c" stroke-width="1.3"/>
<line x1="260.9" y1="643.06" x2="263.1" y2="643.06" stroke="#5c5c5c" stroke-width="1.3"/>
<line x1="260.9" y1="613.57" x2="263.1" y2="613.57" stroke="#5c5c5c" stroke-width="1.3"/>
<line x1="260.9" y1="584.09" x2="263.1" y2="584.09" stroke="#5c5c5c" stroke-width="1.3"/>
<line x1="260.9" y1="554.61" x2="263.1" y2="554.61" stroke="#5c5c5c" stroke-width="1.3"/>
<line x1="260.9" y1="525.12" x2="263.1" y2="525.12" stroke="#5c5c5c" stroke-width="1.3"/>
<line x1="260.9" y1="495.64" x2="263.1" y2="495.64" stroke="#5c5c5c" stroke-width="1.3"/>
<text x="254.5" y="660.7" font-size="9" text-anchor="end" font-weight="normal" fill="#1a1a1a">0</text>
<text x="254.5" y="631.22" font-size="9" text-anchor="end" font-weight="normal" fill="#1a1a1a">1</text>
<text x="254.5" y="601.73" font-size="9" text-anchor="end" font-weight="normal" fill="#1a1a1a">2</text>
<text x="254.5" y="572.25" font-size="9" text-anchor="end" font-weight="normal" fill="#1a1a1a">3</text>
<text x="254.5" y="542.77" font-size="9" text-anchor="end" font-weight="normal" fill="#1a1a1a">4</text>
<text x="254.5" y="513.28" font-size="9" text-anchor="end" font-weight="normal" fill="#1a1a1a">5</text>
<text x="254.5" y="483.8" font-size="9" text-anchor="end" font-weight="normal" fill="#1a1a1a">6</text>
<line x1="263.1" y1="657.8" x2="665" y2="657.8" stroke="#5c5c5c" stroke-width="1.3"/>
<text x="464" y="483.1" font-size="9" text-anchor="middle" font-weight="normal" fill="#1a1a1a">Liver</text>
<text transform="translate(229.0,569.1) rotate(-90)" font-size="9.5" text-anchor="middle" fill="#1a1a1a">[<tspan font-size="6.5" dy="-4.3">15</tspan><tspan dy="4.3">N]-labeled</tspan></text>
<text transform="translate(240.0,569) rotate(-90)" font-size="9.5" text-anchor="middle" fill="#1a1a1a">free amino acid (%)</text>
<line x1="272.15" y1="628.91" x2="272.15" y2="622.71" stroke="#333333" stroke-width="1"/>
<line x1="270.05" y1="622.71" x2="274.25" y2="622.71" stroke="#333333" stroke-width="1"/>
<line x1="282.2" y1="564.34" x2="282.2" y2="557.26" stroke="#999999" stroke-width="1"/>
<line x1="280.1" y1="557.26" x2="284.3" y2="557.26" stroke="#999999" stroke-width="1"/>
<rect x="267.7" y="628.91" width="8.9" height="28.89" fill="#000"/>
<rect x="278.35" y="564.79" width="7.7" height="93.01" fill="#c01e2e" stroke="#5a1018" stroke-width="0.9"/>
<text x="277.3" y="671.8" font-size="9" text-anchor="middle" font-weight="normal" fill="#1a1a1a">Ala</text>
<line x1="272.75" y1="547.6" x2="283.2" y2="547.6" stroke="#2a2a2a" stroke-width="1.2"/>
<polygon points="277.97,540.65 278.56,542.04 280.07,542.17 278.93,543.16 279.27,544.63 277.97,543.85 276.68,544.63 277.02,543.16 275.88,542.17 277.39,542.04" fill="#111"/>
<line x1="301" y1="623.3" x2="301" y2="612.1" stroke="#333333" stroke-width="1"/>
<line x1="298.9" y1="612.1" x2="303.1" y2="612.1" stroke="#333333" stroke-width="1"/>
<line x1="311.05" y1="578.19" x2="311.05" y2="571.71" stroke="#999999" stroke-width="1"/>
<line x1="308.95" y1="571.71" x2="313.15" y2="571.71" stroke="#999999" stroke-width="1"/>
<rect x="296.55" y="623.3" width="8.9" height="34.5" fill="#000"/>
<rect x="307.2" y="578.64" width="7.7" height="79.16" fill="#c01e2e" stroke="#5a1018" stroke-width="0.9"/>
<text x="306.15" y="671.8" font-size="9" text-anchor="middle" font-weight="normal" fill="#1a1a1a">Asp</text>
<line x1="301.6" y1="564.2" x2="312.05" y2="564.2" stroke="#2a2a2a" stroke-width="1.2"/>
<polygon points="306.82,556.15 307.41,557.54 308.92,557.67 307.78,558.66 308.12,560.13 306.82,559.35 305.53,560.13 305.87,558.66 304.73,557.67 306.24,557.54" fill="#111"/>
<line x1="329.85" y1="640.7" x2="329.85" y2="604.14" stroke="#333333" stroke-width="1"/>
<line x1="327.75" y1="604.14" x2="331.95" y2="604.14" stroke="#333333" stroke-width="1"/>
<line x1="339.9" y1="601.78" x2="339.9" y2="497.71" stroke="#999999" stroke-width="1"/>
<line x1="337.8" y1="497.71" x2="342" y2="497.71" stroke="#999999" stroke-width="1"/>
<rect x="325.4" y="640.7" width="8.9" height="17.1" fill="#000"/>
<rect x="336.05" y="602.23" width="7.7" height="55.57" fill="#c01e2e" stroke="#5a1018" stroke-width="0.9"/>
<text x="335" y="671.8" font-size="9" text-anchor="middle" font-weight="normal" fill="#1a1a1a">Cys</text>
<line x1="330.45" y1="493.5" x2="340.9" y2="493.5" stroke="#2a2a2a" stroke-width="1.2"/>
<text x="335.67" y="488.5" font-size="9" text-anchor="middle" font-weight="normal" fill="#1a1a1a">n.s.</text>
<line x1="358.7" y1="605.02" x2="358.7" y2="584.68" stroke="#333333" stroke-width="1"/>
<line x1="356.6" y1="584.68" x2="360.8" y2="584.68" stroke="#333333" stroke-width="1"/>
<line x1="368.75" y1="583.8" x2="368.75" y2="568.17" stroke="#999999" stroke-width="1"/>
<line x1="366.65" y1="568.17" x2="370.85" y2="568.17" stroke="#999999" stroke-width="1"/>
<rect x="354.25" y="605.02" width="8.9" height="52.78" fill="#000"/>
<rect x="364.9" y="584.25" width="7.7" height="73.55" fill="#c01e2e" stroke="#5a1018" stroke-width="0.9"/>
<text x="363.85" y="671.8" font-size="9" text-anchor="middle" font-weight="normal" fill="#1a1a1a">Gln</text>
<line x1="359.3" y1="564" x2="369.75" y2="564" stroke="#2a2a2a" stroke-width="1.2"/>
<text x="364.52" y="559.4" font-size="9" text-anchor="middle" font-weight="normal" fill="#1a1a1a">n.s.</text>
<line x1="387.55" y1="620.36" x2="387.55" y2="613.28" stroke="#333333" stroke-width="1"/>
<line x1="385.45" y1="613.28" x2="389.65" y2="613.28" stroke="#333333" stroke-width="1"/>
<line x1="397.6" y1="577.31" x2="397.6" y2="565.22" stroke="#999999" stroke-width="1"/>
<line x1="395.5" y1="565.22" x2="399.7" y2="565.22" stroke="#999999" stroke-width="1"/>
<rect x="383.1" y="620.36" width="8.9" height="37.44" fill="#000"/>
<rect x="393.75" y="577.76" width="7.7" height="80.04" fill="#c01e2e" stroke="#5a1018" stroke-width="0.9"/>
<text x="392.7" y="671.8" font-size="9" text-anchor="middle" font-weight="normal" fill="#1a1a1a">Glu</text>
<line x1="388.15" y1="547.6" x2="398.6" y2="547.6" stroke="#2a2a2a" stroke-width="1.2"/>
<polygon points="388.38,538.95 388.96,540.34 390.47,540.47 389.33,541.46 389.67,542.93 388.38,542.15 387.08,542.93 387.42,541.46 386.28,540.47 387.79,540.34" fill="#111"/>
<polygon points="393.38,538.95 393.96,540.34 395.47,540.47 394.33,541.46 394.67,542.93 393.38,542.15 392.08,542.93 392.42,541.46 391.28,540.47 392.79,540.34" fill="#111"/>
<polygon points="398.38,538.95 398.96,540.34 400.47,540.47 399.33,541.46 399.67,542.93 398.38,542.15 397.08,542.93 397.42,541.46 396.28,540.47 397.79,540.34" fill="#111"/>
<line x1="416.4" y1="602.37" x2="416.4" y2="563.75" stroke="#333333" stroke-width="1"/>
<line x1="414.3" y1="563.75" x2="418.5" y2="563.75" stroke="#333333" stroke-width="1"/>
<line x1="426.45" y1="588.51" x2="426.45" y2="543.4" stroke="#999999" stroke-width="1"/>
<line x1="424.35" y1="543.4" x2="428.55" y2="543.4" stroke="#999999" stroke-width="1"/>
<rect x="411.95" y="602.37" width="8.9" height="55.43" fill="#000"/>
<rect x="422.6" y="588.96" width="7.7" height="68.84" fill="#c01e2e" stroke="#5a1018" stroke-width="0.9"/>
<text x="421.55" y="671.8" font-size="9" text-anchor="middle" font-weight="normal" fill="#1a1a1a">Gly</text>
<line x1="417" y1="537.6" x2="427.45" y2="537.6" stroke="#2a2a2a" stroke-width="1.2"/>
<text x="422.22" y="533.4" font-size="9" text-anchor="middle" font-weight="normal" fill="#1a1a1a">n.s.</text>
<line x1="445.25" y1="632.15" x2="445.25" y2="624.19" stroke="#333333" stroke-width="1"/>
<line x1="443.15" y1="624.19" x2="447.35" y2="624.19" stroke="#333333" stroke-width="1"/>
<line x1="455.3" y1="602.37" x2="455.3" y2="591.17" stroke="#999999" stroke-width="1"/>
<line x1="453.2" y1="591.17" x2="457.4" y2="591.17" stroke="#999999" stroke-width="1"/>
<rect x="440.8" y="632.15" width="8.9" height="25.65" fill="#000"/>
<rect x="451.45" y="602.82" width="7.7" height="54.98" fill="#c01e2e" stroke="#5a1018" stroke-width="0.9"/>
<text x="450.4" y="671.8" font-size="9" text-anchor="middle" font-weight="normal" fill="#1a1a1a">Ile</text>
<line x1="445.85" y1="585.4" x2="456.3" y2="585.4" stroke="#2a2a2a" stroke-width="1.2"/>
<polygon points="446.07,576.35 446.66,577.74 448.17,577.87 447.03,578.86 447.37,580.33 446.07,579.55 444.78,580.33 445.12,578.86 443.98,577.87 445.49,577.74" fill="#111"/>
<polygon points="451.07,576.35 451.66,577.74 453.17,577.87 452.03,578.86 452.37,580.33 451.07,579.55 449.78,580.33 450.12,578.86 448.98,577.87 450.49,577.74" fill="#111"/>
<polygon points="456.07,576.35 456.66,577.74 458.17,577.87 457.03,578.86 457.37,580.33 456.07,579.55 454.78,580.33 455.12,578.86 453.98,577.87 455.49,577.74" fill="#111"/>
<line x1="474.1" y1="632.44" x2="474.1" y2="621.83" stroke="#333333" stroke-width="1"/>
<line x1="472" y1="621.83" x2="476.2" y2="621.83" stroke="#333333" stroke-width="1"/>
<line x1="484.15" y1="603.85" x2="484.15" y2="594.12" stroke="#999999" stroke-width="1"/>
<line x1="482.05" y1="594.12" x2="486.25" y2="594.12" stroke="#999999" stroke-width="1"/>
<rect x="469.65" y="632.44" width="8.9" height="25.36" fill="#000"/>
<rect x="480.3" y="604.3" width="7.7" height="53.5" fill="#c01e2e" stroke="#5a1018" stroke-width="0.9"/>
<text x="479.25" y="671.8" font-size="9" text-anchor="middle" font-weight="normal" fill="#1a1a1a">Leu</text>
<line x1="474.7" y1="589.1" x2="485.15" y2="589.1" stroke="#2a2a2a" stroke-width="1.2"/>
<polygon points="474.92,579.35 475.51,580.74 477.02,580.87 475.88,581.86 476.22,583.33 474.92,582.55 473.63,583.33 473.97,581.86 472.83,580.87 474.34,580.74" fill="#111"/>
<polygon points="479.92,579.35 480.51,580.74 482.02,580.87 480.88,581.86 481.22,583.33 479.92,582.55 478.63,583.33 478.97,581.86 477.83,580.87 479.34,580.74" fill="#111"/>
<polygon points="484.92,579.35 485.51,580.74 487.02,580.87 485.88,581.86 486.22,583.33 484.92,582.55 483.63,583.33 483.97,581.86 482.83,580.87 484.34,580.74" fill="#111"/>
<line x1="502.95" y1="647.19" x2="502.95" y2="638.64" stroke="#333333" stroke-width="1"/>
<line x1="500.85" y1="638.64" x2="505.05" y2="638.64" stroke="#333333" stroke-width="1"/>
<line x1="513" y1="638.34" x2="513" y2="599.42" stroke="#999999" stroke-width="1"/>
<line x1="510.9" y1="599.42" x2="515.1" y2="599.42" stroke="#999999" stroke-width="1"/>
<rect x="498.5" y="647.19" width="8.9" height="10.61" fill="#000"/>
<rect x="509.15" y="638.79" width="7.7" height="19.01" fill="#c01e2e" stroke="#5a1018" stroke-width="0.9"/>
<text x="508.1" y="671.8" font-size="9" text-anchor="middle" font-weight="normal" fill="#1a1a1a">Lys</text>
<line x1="503.55" y1="593.6" x2="514" y2="593.6" stroke="#2a2a2a" stroke-width="1.2"/>
<text x="508.77" y="588.9" font-size="9" text-anchor="middle" font-weight="normal" fill="#1a1a1a">n.s.</text>
<line x1="531.8" y1="648.95" x2="531.8" y2="638.34" stroke="#333333" stroke-width="1"/>
<line x1="529.7" y1="638.34" x2="533.9" y2="638.34" stroke="#333333" stroke-width="1"/>
<line x1="541.85" y1="628.32" x2="541.85" y2="614.46" stroke="#999999" stroke-width="1"/>
<line x1="539.75" y1="614.46" x2="543.95" y2="614.46" stroke="#999999" stroke-width="1"/>
<rect x="527.35" y="648.95" width="8.9" height="8.85" fill="#000"/>
<rect x="538" y="628.77" width="7.7" height="29.03" fill="#c01e2e" stroke="#5a1018" stroke-width="0.9"/>
<text x="536.95" y="671.8" font-size="9" text-anchor="middle" font-weight="normal" fill="#1a1a1a">Met</text>
<line x1="532.4" y1="608.3" x2="542.85" y2="608.3" stroke="#2a2a2a" stroke-width="1.2"/>
<text x="537.62" y="604.2" font-size="9" text-anchor="middle" font-weight="normal" fill="#1a1a1a">n.s.</text>
<line x1="560.65" y1="635.39" x2="560.65" y2="628.02" stroke="#333333" stroke-width="1"/>
<line x1="558.55" y1="628.02" x2="562.75" y2="628.02" stroke="#333333" stroke-width="1"/>
<line x1="570.7" y1="612.1" x2="570.7" y2="594.71" stroke="#999999" stroke-width="1"/>
<line x1="568.6" y1="594.71" x2="572.8" y2="594.71" stroke="#999999" stroke-width="1"/>
<rect x="556.2" y="635.39" width="8.9" height="22.41" fill="#000"/>
<rect x="566.85" y="612.55" width="7.7" height="45.25" fill="#c01e2e" stroke="#5a1018" stroke-width="0.9"/>
<text x="565.8" y="671.8" font-size="9" text-anchor="middle" font-weight="normal" fill="#1a1a1a">Phe</text>
<line x1="561.25" y1="590.6" x2="571.7" y2="590.6" stroke="#2a2a2a" stroke-width="1.2"/>
<polygon points="566.48,583.05 567.06,584.44 568.57,584.57 567.43,585.56 567.77,587.03 566.48,586.25 565.18,587.03 565.52,585.56 564.38,584.57 565.89,584.44" fill="#111"/>
<line x1="589.5" y1="647.78" x2="589.5" y2="629.5" stroke="#333333" stroke-width="1"/>
<line x1="587.4" y1="629.5" x2="591.6" y2="629.5" stroke="#333333" stroke-width="1"/>
<line x1="599.55" y1="645.71" x2="599.55" y2="624.19" stroke="#999999" stroke-width="1"/>
<line x1="597.45" y1="624.19" x2="601.65" y2="624.19" stroke="#999999" stroke-width="1"/>
<rect x="585.05" y="647.78" width="8.9" height="10.02" fill="#000"/>
<rect x="595.7" y="646.16" width="7.7" height="11.64" fill="#c01e2e" stroke="#5a1018" stroke-width="0.9"/>
<text x="594.65" y="671.8" font-size="9" text-anchor="middle" font-weight="normal" fill="#1a1a1a">Ser</text>
<line x1="590.1" y1="618.6" x2="600.55" y2="618.6" stroke="#2a2a2a" stroke-width="1.2"/>
<text x="595.33" y="614" font-size="9" text-anchor="middle" font-weight="normal" fill="#1a1a1a">n.s.</text>
<line x1="618.35" y1="634.51" x2="618.35" y2="613.57" stroke="#333333" stroke-width="1"/>
<line x1="616.25" y1="613.57" x2="620.45" y2="613.57" stroke="#333333" stroke-width="1"/>
<line x1="628.4" y1="573.18" x2="628.4" y2="559.03" stroke="#999999" stroke-width="1"/>
<line x1="626.3" y1="559.03" x2="630.5" y2="559.03" stroke="#999999" stroke-width="1"/>
<rect x="613.9" y="634.51" width="8.9" height="23.29" fill="#000"/>
<rect x="624.55" y="573.63" width="7.7" height="84.17" fill="#c01e2e" stroke="#5a1018" stroke-width="0.9"/>
<text x="623.5" y="671.8" font-size="9" text-anchor="middle" font-weight="normal" fill="#1a1a1a">Thr</text>
<line x1="618.95" y1="552.8" x2="629.4" y2="552.8" stroke="#2a2a2a" stroke-width="1.2"/>
<polygon points="619.18,541.65 619.76,543.04 621.27,543.17 620.13,544.16 620.47,545.63 619.18,544.85 617.88,545.63 618.22,544.16 617.08,543.17 618.59,543.04" fill="#111"/>
<polygon points="624.18,541.65 624.76,543.04 626.27,543.17 625.13,544.16 625.47,545.63 624.18,544.85 622.88,545.63 623.22,544.16 622.08,543.17 623.59,543.04" fill="#111"/>
<polygon points="629.18,541.65 629.76,543.04 631.27,543.17 630.13,544.16 630.47,545.63 629.18,544.85 627.88,545.63 628.22,544.16 627.08,543.17 628.59,543.04" fill="#111"/>
<line x1="647.2" y1="634.21" x2="647.2" y2="612.4" stroke="#333333" stroke-width="1"/>
<line x1="645.1" y1="612.4" x2="649.3" y2="612.4" stroke="#333333" stroke-width="1"/>
<line x1="657.25" y1="583.8" x2="657.25" y2="576.13" stroke="#999999" stroke-width="1"/>
<line x1="655.15" y1="576.13" x2="659.35" y2="576.13" stroke="#999999" stroke-width="1"/>
<rect x="642.75" y="634.21" width="8.9" height="23.59" fill="#000"/>
<rect x="653.4" y="584.25" width="7.7" height="73.55" fill="#c01e2e" stroke="#5a1018" stroke-width="0.9"/>
<text x="652.35" y="671.8" font-size="9" text-anchor="middle" font-weight="normal" fill="#1a1a1a">Val</text>
<line x1="647.8" y1="570.7" x2="658.25" y2="570.7" stroke="#2a2a2a" stroke-width="1.2"/>
<polygon points="648.03,558.65 648.61,560.04 650.12,560.17 648.98,561.16 649.32,562.63 648.03,561.85 646.73,562.63 647.07,561.16 645.93,560.17 647.44,560.04" fill="#111"/>
<polygon points="653.03,558.65 653.61,560.04 655.12,560.17 653.98,561.16 654.32,562.63 653.03,561.85 651.73,562.63 652.07,561.16 650.93,560.17 652.44,560.04" fill="#111"/>
<polygon points="658.03,558.65 658.61,560.04 660.12,560.17 658.98,561.16 659.32,562.63 658.03,561.85 656.73,562.63 657.07,561.16 655.93,560.17 657.44,560.04" fill="#111"/>
</svg>
</body></html>
